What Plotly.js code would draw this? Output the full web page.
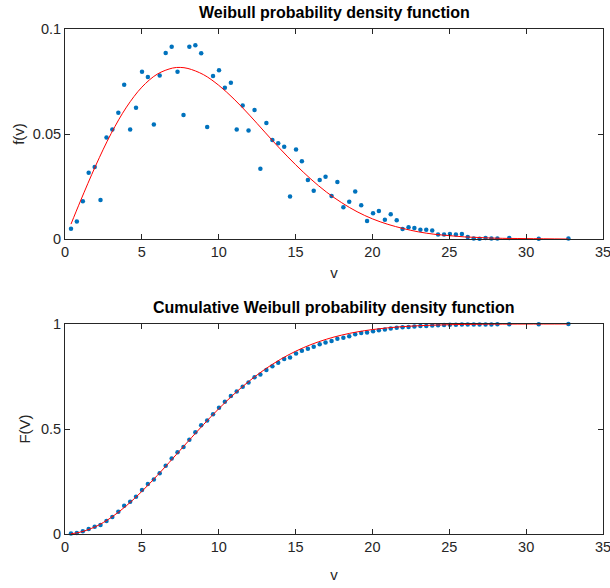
<!DOCTYPE html>
<html>
<head>
<meta charset="utf-8">
<script src="https://cdn.plot.ly/plotly-3.0.1.min.js"></script>
<style>html,body{margin:0;padding:0;background:#fff;overflow:hidden;}#chart{width:610px;height:588px;}</style>
</head>
<body>
<div id="chart"></div>
<script>
// Wind speed bins (v) and observed values
const v = [0.39,0.77,1.16,1.54,1.93,2.31,2.70,3.08,3.47,3.85,4.24,4.62,5.01,5.39,5.78,6.16,6.55,6.94,7.32,7.71,8.09,8.48,8.86,9.25,9.63,10.02,10.40,10.79,11.17,11.56,11.94,12.33,12.71,13.10,13.49,13.87,14.26,14.64,15.03,15.41,15.80,16.18,16.57,16.95,17.34,17.72,18.11,18.49,18.88,19.27,19.65,20.04,20.42,20.81,21.19,21.58,21.96,22.35,22.73,23.12,23.50,23.89,24.27,24.66,25.04,25.43,25.82,26.20,26.59,26.97,27.36,27.74,28.13,28.90,30.82,32.75];
const fObs = [0.0049,0.0083,0.0180,0.0316,0.0343,0.0186,0.0483,0.0521,0.0601,0.0734,0.0521,0.0625,0.0796,0.0771,0.0545,0.0779,0.0886,0.0916,0.0796,0.0590,0.0916,0.0922,0.0884,0.0533,0.0776,0.0803,0.0720,0.0744,0.0521,0.0636,0.0517,0.0614,0.0334,0.0553,0.0471,0.0456,0.0439,0.0202,0.0426,0.0370,0.0281,0.0230,0.0281,0.0297,0.0205,0.0272,0.0151,0.0178,0.0226,0.0161,0.0086,0.0123,0.0134,0.0092,0.0118,0.0089,0.0048,0.0056,0.0052,0.0044,0.0044,0.0041,0.0022,0.0022,0.0024,0.0021,0.0024,0.0010,0.0003,0.0001,0.0005,0.0002,0.0002,0.0005,0.0001,0.0002];
const FObs = [0.002,0.005,0.013,0.024,0.035,0.043,0.062,0.081,0.106,0.135,0.154,0.178,0.210,0.238,0.259,0.289,0.325,0.359,0.389,0.414,0.449,0.484,0.518,0.540,0.570,0.601,0.630,0.657,0.678,0.701,0.722,0.746,0.760,0.781,0.799,0.816,0.833,0.841,0.859,0.873,0.882,0.892,0.903,0.912,0.919,0.930,0.935,0.942,0.951,0.957,0.960,0.965,0.970,0.974,0.978,0.982,0.984,0.986,0.988,0.990,0.991,0.993,0.994,0.995,0.996,0.996,0.997,0.998,0.998,0.998,0.998,0.998,0.999,0.999,0.999,1.000];
// Fitted Weibull curve
const vFit = [0.39,1,2,3,4,5,6,7,7.5,8,9,10,11,12,13,14,15,16,17,18,19,20,21,22,23,24,25,26,27,28,30,32.75];
const fFit = [0.0071,0.0180,0.0350,0.0502,0.0628,0.0723,0.0785,0.0814,0.0817,0.0812,0.0783,0.0732,0.0666,0.0590,0.0509,0.0429,0.0354,0.0285,0.0224,0.0173,0.0130,0.0096,0.0070,0.0050,0.0034,0.0023,0.0016,0.0010,0.0007,0.0004,0.0002,0.0000];
const FFit = [0.0014,0.0090,0.0356,0.0784,0.1351,0.2029,0.2786,0.3588,0.3996,0.4404,0.5203,0.5963,0.6663,0.7291,0.7841,0.8310,0.8701,0.9019,0.9273,0.9471,0.9622,0.9734,0.9817,0.9876,0.9918,0.9946,0.9966,0.9978,0.9987,0.9992,0.9997,1.0000];

const blue = '#0072BD', red = '#FF0000', axc = '#262626';
const font = 'Liberation Sans, Arial, Helvetica, sans-serif';

const traces = [
  {x: v, y: fObs, mode: 'markers', type: 'scatter', marker: {color: blue, size: 4.5}, xaxis: 'x', yaxis: 'y', cliponaxis: false},
  {x: vFit, y: fFit, mode: 'lines', type: 'scatter', line: {color: red, width: 1, shape: 'spline'}, xaxis: 'x', yaxis: 'y'},
  {x: v, y: FObs, mode: 'markers', type: 'scatter', marker: {color: blue, size: 4.5}, xaxis: 'x2', yaxis: 'y2', cliponaxis: false},
  {x: vFit, y: FFit, mode: 'lines', type: 'scatter', line: {color: red, width: 1, shape: 'spline'}, xaxis: 'x2', yaxis: 'y2'}
];

const baseAx = {
  showline: true, linecolor: axc, linewidth: 1, mirror: 'ticks',
  ticks: 'inside', ticklen: 5, tickcolor: axc, tickwidth: 1,
  showgrid: false, zeroline: false, automargin: false,
  ticklabeloverflow: 'allow',
  tickfont: {family: font, size: 14.5, color: axc}
};
const xTicks = [0,5,10,15,20,25,30,35];

const layout = {
  width: 610, height: 588,
  margin: {l: 0, r: 7, t: 0, b: 0},
  paper_bgcolor: '#fff', plot_bgcolor: '#fff',
  showlegend: false,
  font: {family: font, color: axc},
  xaxis: Object.assign({}, baseAx, {domain: [0.1078, 1.0], range: [0, 35], tickvals: xTicks, anchor: 'y',
    title: {text: 'v', font: {family: font, size: 15, color: axc}, standoff: 8}}),
  yaxis: Object.assign({}, baseAx, {domain: [0.5935, 0.9507], range: [0, 0.1], tickvals: [0, 0.05, 0.1], ticktext: ['0', '0.05', '0.1'], anchor: 'x',
    title: {text: 'f(v)', font: {family: font, size: 15, color: axc}, standoff: 4}}),
  xaxis2: Object.assign({}, baseAx, {domain: [0.1078, 1.0], range: [0, 35], tickvals: xTicks, anchor: 'y2',
    title: {text: 'v', font: {family: font, size: 15, color: axc}, standoff: 15}}),
  yaxis2: Object.assign({}, baseAx, {domain: [0.0918, 0.449], range: [0, 1], tickvals: [0, 0.5, 1], ticktext: ['0', '0.5', '1'], anchor: 'x2',
    title: {text: 'F(V)', font: {family: font, size: 15, color: axc}, standoff: 6}}),
  annotations: [
    {text: '<b>Weibull probability density function</b>', xref: 'paper', yref: 'paper', x: 0.554, y: 0.9507, yshift: 6, xanchor: 'center', yanchor: 'bottom', showarrow: false, font: {family: font, size: 16, color: '#000'}},
    {text: '<b>Cumulative Weibull probability density function</b>', xref: 'paper', yref: 'paper', x: 0.554, y: 0.449, yshift: 6, xanchor: 'center', yanchor: 'bottom', showarrow: false, font: {family: font, size: 16, color: '#000'}}
  ]
};

Plotly.newPlot('chart', traces, layout, {staticPlot: true, displayModeBar: false});
</script>
</body>
</html>
